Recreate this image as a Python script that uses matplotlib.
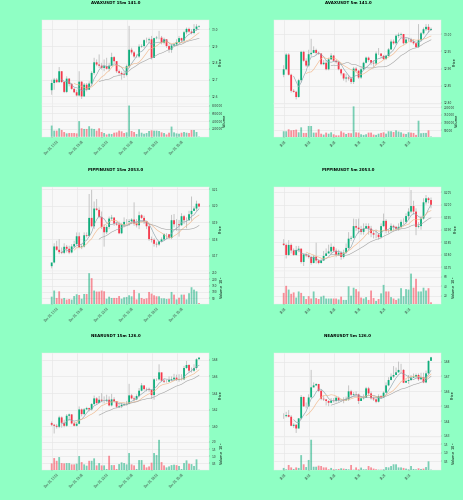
import numpy as np
import matplotlib
matplotlib.use("Agg")
import matplotlib.pyplot as plt
from matplotlib.ticker import FixedLocator, FixedFormatter

BG = "#8fffc4"
UP = "#0fae7c"
DOWN = "#f7394c"
MA_COLORS = ["#8da4ad", "#f2b78a", "#a3a3a3"]

times_15m = ["Dec 01, 17:15", "Dec 01, 19:45", "Dec 01, 22:15", "Dec 02, 00:45", "Dec 02, 03:15", "Dec 02, 05:45"]
times_5m = ["03:05", "03:55", "04:45", "05:35", "06:25", "07:15"]

# AVAX 15m
avax15_first = 12.637
avax15_close = [12.68,12.70,12.685,12.75,12.686,12.627,12.706,12.675,12.645,12.625,12.606,12.688,12.60,12.67,12.64,12.677,12.74,12.803,12.79,12.783,12.77,12.78,12.765,12.783,12.834,12.81,12.75,12.74,12.732,12.728,12.78,12.878,12.862,12.838,12.838,12.897,12.90,12.935,12.935,12.94,12.83,12.947,12.95,12.95,12.92,12.94,12.90,12.878,12.903,12.91,12.923,12.947,12.933,12.982,13.002,12.986,12.978,13.002,13.016,13.02]
avax15_high = [12.70,12.71,12.71,12.775,12.75,12.69,12.72,12.71,12.68,12.65,12.64,12.75,12.69,12.68,12.68,12.69,12.75,12.83,12.82,12.85,12.80,12.82,12.83,12.80,12.86,12.84,12.81,12.76,12.75,12.75,12.79,13.02,12.89,12.87,12.85,12.91,12.91,12.94,12.95,12.95,12.96,12.95,12.96,12.99,12.96,12.95,12.94,12.91,12.91,12.92,12.94,12.96,12.95,12.99,13.01,13.01,13.0,13.03,13.03,13.02]
avax15_low = [12.61,12.64,12.68,12.68,12.68,12.62,12.62,12.66,12.64,12.62,12.60,12.60,12.585,12.60,12.63,12.64,12.67,12.73,12.78,12.77,12.76,12.75,12.76,12.75,12.78,12.80,12.74,12.73,12.70,12.71,12.72,12.77,12.85,12.83,12.83,12.83,12.89,12.89,12.92,12.92,12.82,12.83,12.94,12.94,12.91,12.91,12.89,12.86,12.86,12.90,12.90,12.92,12.92,12.92,12.97,12.98,12.97,12.97,12.99,13.01]
avax15_vol = [287,157,157,217,174,122,87,96,96,96,87,400,217,200,200,270,209,200,157,217,122,96,60,78,70,104,113,157,139,96,113,800,148,122,70,191,104,78,96,148,165,157,157,148,113,96,60,104,261,113,87,78,104,122,104,96,174,174,122,9]

# AVAX 5m
avax5_first = 12.882
avax5_close = [12.898,12.941,12.882,12.835,12.832,12.817,12.866,12.949,12.923,12.909,12.942,12.946,12.954,12.946,12.944,12.913,12.917,12.898,12.927,12.938,12.923,12.919,12.898,12.886,12.871,12.874,12.871,12.861,12.90,12.894,12.874,12.898,12.917,12.932,12.925,12.917,12.915,12.944,12.944,12.937,12.928,12.937,12.956,12.979,12.974,12.996,12.999,13.001,12.974,12.985,12.985,12.979,12.974,12.963,12.983,13.003,13.015,13.022,13.013,13.016]
avax5_high = [12.91,12.945,12.945,12.885,12.84,12.835,12.87,12.952,12.952,12.93,12.955,12.987,12.965,12.958,12.95,12.945,12.925,12.925,12.932,12.945,12.94,12.925,12.92,12.90,12.885,12.885,12.88,12.875,12.905,12.905,12.895,12.905,12.92,12.935,12.935,12.925,12.925,12.95,12.96,12.945,12.94,12.94,12.96,12.985,12.985,13.0,13.005,13.005,13.0,12.99,12.99,12.99,12.985,12.975,13.03,13.007,13.02,13.03,13.03,13.02]
avax5_low = [12.875,12.895,12.88,12.83,12.83,12.81,12.815,12.86,12.92,12.905,12.905,12.935,12.945,12.94,12.94,12.91,12.91,12.895,12.895,12.925,12.92,12.915,12.895,12.88,12.865,12.86,12.865,12.855,12.855,12.89,12.87,12.87,12.895,12.915,12.92,12.91,12.905,12.91,12.94,12.93,12.925,12.925,12.935,12.955,12.97,12.97,12.99,12.99,12.97,12.98,12.98,12.975,12.97,12.96,12.96,12.98,13.0,13.01,13.005,13.01]
avax5_vol = [42,42,55,48,50,53,35,68,31,31,77,77,33,33,55,26,20,33,26,35,22,15,15,42,33,24,31,29,207,35,33,22,18,22,33,33,20,18,26,31,35,26,42,42,37,48,40,35,26,24,35,33,31,18,112,29,31,31,48,7]

# PIPPIN 15m
pippin15_first = 0.1638
pippin15_close = [.166,.1756,.1736,.1722,.1718,.1754,.1742,.172,.1756,.177,.1817,.1752,.1756,.1823,.1819,.1927,.1877,.1983,.1975,.1933,.1873,.1841,.1873,.1923,.1929,.1893,.1887,.1835,.1887,.1903,.1903,.1907,.1917,.1893,.1883,.1943,.1927,.1907,.1877,.18,.1796,.1772,.1768,.1786,.1798,.1829,.1829,.1807,.1913,.1889,.1889,.1883,.1937,.1913,.1913,.1949,.1969,.1983,.2012,.1995]
pippin15_high = [.1645,.1775,.179,.180,.175,.1775,.1765,.176,.177,.179,.184,.184,.177,.184,.184,.207,.2095,.2025,.204,.199,.1965,.189,.1885,.1935,.1945,.193,.1905,.1905,.1895,.193,.192,.192,.1925,.202,.192,.1965,.195,.194,.191,.189,.1815,.1805,.1785,.179,.181,.1835,.1835,.182,.1945,.195,.192,.1915,.1955,.1945,.193,.197,.2055,.1995,.203,.2015]
pippin15_low = [.1625,.1655,.173,.171,.171,.171,.172,.171,.1715,.175,.1765,.1745,.174,.175,.181,.1815,.187,.186,.197,.1925,.186,.1755,.183,.186,.191,.188,.188,.183,.183,.187,.189,.188,.189,.188,.187,.186,.192,.189,.186,.179,.178,.1755,.175,.176,.178,.179,.18,.18,.18,.187,.185,.1815,.188,.189,.1865,.191,.191,.197,.197,.199]
pippin15_vol = [63,111,53,105,47,53,40,45,40,68,82,76,47,84,84,247,208,111,103,103,111,105,47,63,53,53,53,68,47,58,61,74,66,116,42,90,53,45,50,100,87,74,66,66,50,50,45,47,100,79,42,55,79,79,42,90,137,118,105,13]

# PIPPIN 5m
pippin5_first = 0.1844
pippin5_close = [.1839,.1799,.1839,.1817,.1799,.1819,.1824,.1771,.1801,.1797,.1791,.1767,.1792,.1777,.1767,.1777,.1795,.1805,.1813,.1831,.1816,.18,.1808,.1791,.1808,.1827,.1864,.1867,.1914,.1908,.1902,.1891,.1904,.1914,.1904,.1886,.188,.188,.187,.1914,.1935,.1895,.1894,.1915,.1911,.1904,.1911,.1931,.1931,.1954,.1972,.1994,.1972,.1911,.1914,.1944,.2009,.2025,.2018,.1999]
pippin5_high = [.1862,.1845,.1858,.1845,.1825,.1835,.1835,.1825,.1805,.1805,.1805,.1795,.18,.1848,.178,.1785,.1815,.1825,.184,.1845,.1835,.1825,.182,.1815,.182,.1845,.189,.1875,.1944,.1942,.1944,.1915,.1925,.1925,.1925,.1915,.1895,.19,.1885,.1925,.1964,.1942,.19,.1925,.192,.1915,.1925,.194,.1945,.1965,.1985,.2058,.2015,.1985,.193,.1955,.2025,.2038,.203,.2028]
pippin5_low = [.1835,.1785,.1795,.1805,.1795,.1795,.181,.1765,.1755,.179,.1785,.176,.1765,.1765,.1762,.1765,.1775,.1795,.1805,.1805,.181,.179,.1795,.178,.1785,.1805,.182,.1855,.1865,.1895,.1885,.188,.188,.1905,.188,.187,.1865,.1865,.186,.1865,.191,.1885,.1885,.1895,.1895,.1895,.1895,.1905,.192,.1925,.194,.1965,.196,.1878,.1905,.19,.194,.2,.2005,.1985]
pippin5_vol = [26,41,33,24,27,16,29,26,19,13,19,14,29,15,13,18,20,14,14,14,14,14,12,18,11,11,40,20,37,34,29,16,14,17,11,31,15,9,13,25,43,29,29,17,14,11,14,36,19,34,33,67,37,56,29,29,37,31,36,6]

# NEAR 15m
near15_first = 1.604
near15_close = [1.602,1.6008,1.5996,1.6108,1.6044,1.6008,1.6128,1.6144,1.6036,1.6008,1.6032,1.6204,1.6148,1.6204,1.622,1.6204,1.6268,1.6336,1.628,1.632,1.6308,1.6308,1.632,1.6252,1.6324,1.6304,1.6236,1.6244,1.626,1.6268,1.6272,1.6372,1.6336,1.6324,1.6364,1.6428,1.6492,1.6448,1.6444,1.6436,1.6376,1.6564,1.6564,1.6648,1.6548,1.6536,1.6536,1.6556,1.6564,1.6584,1.6556,1.6564,1.6564,1.67,1.6736,1.6668,1.6668,1.67,1.6804,1.6824]
near15_high = [1.606,1.603,1.603,1.6128,1.612,1.608,1.6148,1.6155,1.6148,1.606,1.6052,1.624,1.6215,1.622,1.6235,1.6225,1.628,1.637,1.635,1.6365,1.64,1.636,1.638,1.636,1.639,1.635,1.628,1.6275,1.628,1.6285,1.6305,1.651,1.639,1.636,1.6385,1.646,1.652,1.6478,1.6465,1.6465,1.644,1.6575,1.6575,1.6744,1.664,1.657,1.656,1.66,1.66,1.663,1.662,1.6625,1.6625,1.6725,1.6785,1.6745,1.6705,1.6745,1.6815,1.683]
near15_low = [1.6005,1.5916,1.5975,1.598,1.5985,1.599,1.5995,1.607,1.6025,1.6,1.6,1.6025,1.612,1.6135,1.62,1.618,1.619,1.6255,1.626,1.628,1.629,1.6275,1.629,1.624,1.624,1.6285,1.622,1.622,1.622,1.625,1.6255,1.6265,1.6325,1.63,1.6315,1.635,1.642,1.643,1.642,1.6415,1.633,1.632,1.6545,1.655,1.654,1.652,1.6525,1.653,1.654,1.655,1.6545,1.6535,1.655,1.6555,1.669,1.665,1.6645,1.6655,1.668,1.681]
near15_vol = [.5,.87,.68,.94,.52,.5,.52,.52,.43,.43,.48,1.01,.59,.43,.34,.68,.68,.85,.36,.52,.36,.36,.11,1.03,.38,.38,.11,.45,.57,.52,.43,1.22,.43,.36,.11,.73,.73,.41,.22,.29,.55,1.22,1.08,2.14,.59,.36,.22,.29,.38,.41,.38,.32,.11,.52,.71,.48,.45,.32,.78,.06]

# NEAR 5m
near5_first = 1.6433
near5_close = [1.6433,1.644,1.6429,1.6368,1.6375,1.635,1.6418,1.6562,1.6499,1.6499,1.6559,1.6627,1.664,1.6649,1.6604,1.655,1.6546,1.6535,1.6523,1.6537,1.6535,1.6557,1.6541,1.6541,1.6539,1.6546,1.66,1.6577,1.6582,1.6579,1.6535,1.6553,1.6557,1.662,1.6586,1.6553,1.6546,1.653,1.6568,1.6559,1.6591,1.664,1.6676,1.6699,1.671,1.6728,1.6744,1.6744,1.6658,1.667,1.6676,1.6692,1.6699,1.671,1.6681,1.6694,1.666,1.6721,1.6805,1.6829]
near5_high = [1.6452,1.6462,1.6474,1.644,1.6385,1.638,1.642,1.6575,1.6565,1.6525,1.658,1.6744,1.666,1.6655,1.665,1.661,1.657,1.6545,1.654,1.6555,1.6555,1.657,1.6565,1.655,1.656,1.6565,1.664,1.661,1.6595,1.66,1.6585,1.6565,1.658,1.663,1.663,1.66,1.6565,1.656,1.658,1.6575,1.66,1.666,1.6695,1.672,1.677,1.676,1.68,1.6785,1.675,1.668,1.671,1.671,1.672,1.672,1.672,1.6725,1.6725,1.674,1.6808,1.6832]
near5_low = [1.6415,1.6425,1.6425,1.6365,1.6355,1.632,1.635,1.641,1.6495,1.6485,1.6495,1.656,1.6625,1.6635,1.6595,1.654,1.6535,1.6505,1.65,1.652,1.6525,1.6525,1.653,1.653,1.652,1.654,1.6535,1.6565,1.657,1.6565,1.6515,1.6535,1.6545,1.6555,1.6575,1.6545,1.6535,1.652,1.6525,1.655,1.6555,1.659,1.6635,1.6675,1.669,1.671,1.6725,1.672,1.6655,1.666,1.665,1.667,1.669,1.6685,1.667,1.6675,1.6655,1.6655,1.6715,1.681]
near5_vol = [.12,.04,.29,.15,.06,.15,.12,.86,.33,.17,.58,1.75,.19,.19,.25,.23,.15,.15,.04,.12,.04,.04,.06,.1,.08,.06,.04,.29,.02,.15,.04,.14,.04,.04,.23,.15,.08,.04,.02,.02,.04,.17,.15,.23,.33,.33,.15,.15,.12,.08,.04,.23,.06,.04,.1,.06,.08,.17,.5,.02]

WIDTH, HEIGHT = 464, 500
fig = plt.figure(figsize=(WIDTH / 100, HEIGHT / 100), dpi=100, facecolor=BG)


def sma(values, n):
    out = np.full(len(values), np.nan)
    out[n - 1:] = np.convolve(values, np.ones(n) / n, mode="valid")
    return out


def style_axis(ax):
    ax.set_facecolor("#f8f8f8")
    ax.set_xlim(-4, 63)
    ax.grid(True, color="#e6e6e6", lw=0.45)
    ax.set_axisbelow(True)
    for spine in ax.spines.values():
        spine.set_color("#eeeeee")
        spine.set_linewidth(0.3)
    ax.yaxis.tick_right()
    ax.yaxis.set_label_position("right")
    ax.tick_params(axis="both", labelsize=2.1, length=1, width=0.25, pad=1, color="#555555",
                   labelcolor="#333333")
    ax.set_xticks(range(0, 60, 10))


def panel(col, row_top, title, first, close, high, low, vol, price_ticks, price_fmt, price_lim, price_x,
          vol_ticks, vol_labels, vol_lim, vol_label, vol_scale, vol_x, times):
    left = (41.7 + col * 232) / WIDTH
    w = 167.3 / WIDTH
    split = row_top + 83.5
    bottom = row_top + 116.7
    ax = fig.add_axes([left, 1 - split / HEIGHT, w, 83.5 / HEIGHT])
    axv = fig.add_axes([left, 1 - bottom / HEIGHT, w, (bottom - split) / HEIGHT])
    style_axis(ax)
    style_axis(axv)

    close = np.array(close)
    opens = np.r_[first, close[:-1]]
    x = np.arange(len(close))
    up = close >= opens
    colors = np.where(up, UP, DOWN)

    wicks = ax.vlines(x, low, high, color="#c4c4c4", lw=0.7, zorder=2)
    wicks.set_snap(False)
    bodies = ax.bar(x, np.abs(close - opens), bottom=np.minimum(opens, close), width=0.72,
                    color=colors, lw=0, zorder=3)
    for b in bodies:
        b.set_snap(False)
    for n, c in zip((5, 10, 20), MA_COLORS):
        ax.plot(x, sma(close, n), color=c, lw=0.42, zorder=4)

    ax.set_ylim(*price_lim)
    ax.set_yticks(price_ticks)
    ax.set_yticklabels([price_fmt % t for t in price_ticks])
    ax.tick_params(axis="x", labelbottom=False, length=0)
    ax.set_ylabel("Price", fontsize=2.5)
    ax.yaxis.set_label_coords(price_x, 0.5)

    vols = np.array(vol) * vol_scale
    for mask, c in ((up, UP), (~up, DOWN)):
        bars = axv.bar(x[mask], vols[mask], width=0.72, color=c, alpha=0.55, lw=0, zorder=3)
        for b in bars:
            b.set_snap(False)
    axv.set_ylim(*vol_lim)
    axv.yaxis.set_major_locator(FixedLocator(vol_ticks))
    axv.yaxis.set_major_formatter(FixedFormatter(vol_labels))
    axv.set_ylabel(vol_label, fontsize=2.5)
    axv.yaxis.set_label_coords(vol_x, 0.5)
    axv.set_xticklabels(times, rotation=45, ha="center", fontsize=1.9)

    fig.text((116 + col * 232) / WIDTH, 1 - (row_top - 17) / HEIGHT, title, fontsize=2.85,
             fontweight="bold", ha="center", va="center")


panel(0, 20, "AVAXUSDT 15m 141.0", avax15_first, avax15_close, avax15_high, avax15_low, avax15_vol,
      [12.6, 12.7, 12.8, 12.9, 13.0], "%.1f", (12.558, 13.055), 1.058,
      [200000, 400000, 600000, 800000], ["200000", "400000", "600000", "800000"], (2000, 852000),
      "Volume", 1000, 1.086, times_15m)
panel(1, 20, "AVAXUSDT 5m 141.0", avax5_first, avax5_close, avax5_high, avax5_low, avax5_vol,
      [12.80, 12.85, 12.90, 12.95, 13.0], "%.2f", (12.798, 13.042), 1.072,
      [50000, 100000, 150000, 200000], ["50000", "100000", "150000", "200000"], (6000, 226000),
      "Volume", 1000, 1.086, times_5m)
panel(0, 187, "PIPPINUSDT 15m 2053.0", pippin15_first, pippin15_close, pippin15_high, pippin15_low, pippin15_vol,
      [0.17, 0.18, 0.19, 0.20, 0.21], "%.2f", (0.1612, 0.2112), 1.06,
      [50, 100, 150, 200, 250], ["50", "100", "150", "200", "250"], (8, 268),
      "Volume  $10^{5}$", 1, 1.058, times_15m)
panel(1, 187, "PIPPINUSDT 5m 2053.0", pippin5_first, pippin5_close, pippin5_high, pippin5_low, pippin5_vol,
      [0.175, 0.18, 0.185, 0.19, 0.195, 0.20, 0.205], "%.3f", (0.1737, 0.207), 1.075,
      [20, 40, 60], ["20", "40", "60"], (3, 73.6),
      "Volume  $10^{5}$", 1, 1.058, times_5m)
panel(0, 353.3, "NEARUSDT 15m 126.0", near15_first, near15_close, near15_high, near15_low, near15_vol,
      [1.60, 1.62, 1.64, 1.66, 1.68], "%.2f", (1.5876, 1.6876), 1.06,
      [0.5, 1.0, 1.5, 2.0], ["0.5", "1.0", "1.5", "2.0"], (0.04, 2.35),
      "Volume  $10^{6}$", 1, 1.058, times_15m)
panel(1, 353.3, "NEARUSDT 5m 126.0", near5_first, near5_close, near5_high, near5_low, near5_vol,
      [1.63, 1.64, 1.65, 1.66, 1.67, 1.68], "%.2f", (1.6294, 1.6856), 1.06,
      [0.5, 1.0, 1.5], ["0.5", "1.0", "1.5"], (0.0, 1.92),
      "Volume  $10^{6}$", 1, 1.058, times_5m)

fig.savefig("out.png", dpi=100, facecolor=BG)
